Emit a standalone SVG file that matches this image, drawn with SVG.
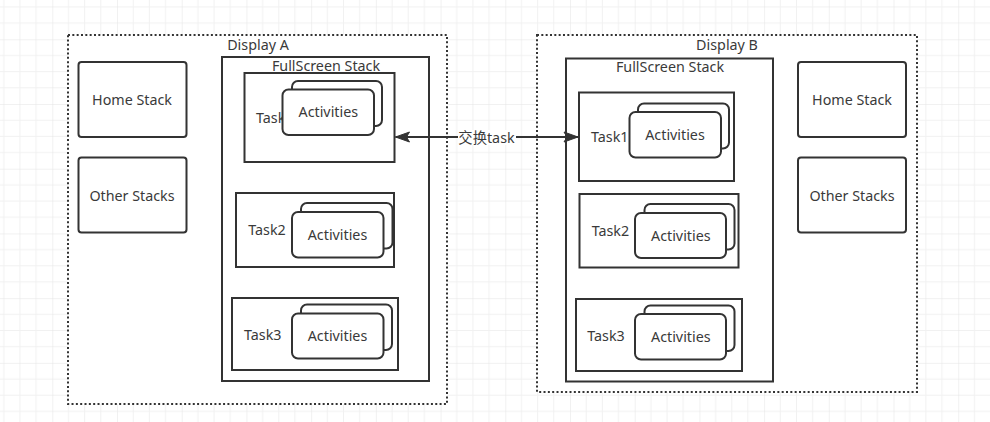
<svg xmlns="http://www.w3.org/2000/svg" width="990" height="422" viewBox="0 0 990 422">
<defs>
<pattern id="grid" patternUnits="userSpaceOnUse" x="52.3" y="39.3" width="64.71" height="64.71">
<path d="M16.18,0V64.71M32.36,0V64.71M48.53,0V64.71M0,16.18H64.71M0,32.36H64.71M0,48.53H64.71" stroke="#f1f1f1" stroke-width="1" fill="none"/>
<path d="M0,0V64.71M0,0H64.71" stroke="#e4e4e4" stroke-width="1" fill="none"/>
</pattern>
<marker id="arr" markerUnits="userSpaceOnUse" markerWidth="16" markerHeight="12" viewBox="0 0 16 12" refX="15" refY="6" orient="auto-start-reverse">
<path d="M1,1 L15,6 L1,11 L4,6 z" fill="#333" stroke="#333" stroke-width="1"/>
</marker>
</defs>
<style>
.disp{fill:#fff;stroke:#333;stroke-width:2;stroke-dasharray:2 2.33}
.box{fill:#fff;stroke:#333;stroke-width:2}
.rbox{fill:#fff;stroke:#333;stroke-width:2}
.card{fill:#fff;stroke:#333;stroke-width:2}
text{font-family:"Noto Sans","Open Sans","Noto Sans CJK SC",sans-serif;font-size:14.3px;fill:#3a3a3a}
.c{text-anchor:middle}
.edge{stroke:#333;stroke-width:2;fill:none}
</style>
<rect x="0" y="0" width="990" height="422" fill="#fff"/>
<rect x="0" y="0" width="990" height="422" fill="url(#grid)"/>

<g id="displayA">
<rect class="disp" x="68" y="35" width="379" height="369"/>
<text class="c" x="258" y="50">Display A</text>
</g>
<g id="displayB">
<rect class="disp" x="537" y="35" width="380" height="357"/>
<text class="c" x="727" y="50">Display B</text>
</g>

<g id="homeStackA">
<rect class="rbox" x="78.5" y="62" width="108" height="75" rx="3"/>
<text class="c" x="132" y="105">Home Stack</text>
</g>
<g id="otherStacksA">
<rect class="rbox" x="78.5" y="157.5" width="108" height="75" rx="3"/>
<text class="c" x="132" y="201">Other Stacks</text>
</g>
<g id="fullscreenA">
<rect class="box" x="222" y="57" width="207" height="324"/>
<text class="c" x="326" y="71">FullScreen Stack</text>
</g>
<g id="taskA1">
<rect class="box" x="244.5" y="73" width="150" height="89"/>
<text x="256" y="123">Task1</text>
<rect class="card" x="292" y="81" width="90" height="45" rx="6"/>
<rect class="card" x="282.5" y="89.5" width="91.5" height="45.5" rx="6"/>
<text class="c" x="328.3" y="117.3">Activities</text>
</g>
<g id="taskA2">
<rect class="box" x="236" y="193" width="158" height="74"/>
<text x="248.3" y="235">Task2</text>
<rect class="card" x="301" y="203" width="91.5" height="45.5" rx="6"/>
<rect class="card" x="292" y="212" width="91.5" height="45.5" rx="6"/>
<text class="c" x="337.5" y="239.5">Activities</text>
</g>
<g id="taskA3">
<rect class="box" x="232" y="298" width="166" height="72"/>
<text x="244" y="340">Task3</text>
<rect class="card" x="301" y="304.5" width="91" height="45.5" rx="6"/>
<rect class="card" x="292" y="313.5" width="91.5" height="45" rx="6"/>
<text class="c" x="337.5" y="341">Activities</text>
</g>

<g id="fullscreenB">
<rect class="box" x="566" y="58.5" width="207" height="323"/>
<text class="c" x="670" y="72">FullScreen Stack</text>
</g>
<g id="homeStackB">
<rect class="rbox" x="798" y="62" width="108" height="75" rx="3"/>
<text class="c" x="852" y="105">Home Stack</text>
</g>
<g id="otherStacksB">
<rect class="rbox" x="798" y="157.5" width="108" height="75" rx="3"/>
<text class="c" x="852" y="201">Other Stacks</text>
</g>
<g id="taskB1">
<rect class="box" x="579" y="92.5" width="155" height="88.5"/>
<text x="591" y="142.3">Task1</text>
<rect class="card" x="638" y="103.5" width="91" height="45" rx="6"/>
<rect class="card" x="629.5" y="112" width="91.5" height="45.5" rx="6"/>
<text class="c" x="675" y="140.3">Activities</text>
</g>
<g id="taskB2">
<rect class="box" x="579.5" y="194" width="159" height="73.5"/>
<text x="591.7" y="236">Task2</text>
<rect class="card" x="644.5" y="204" width="90" height="45.5" rx="6"/>
<rect class="card" x="635" y="213" width="91" height="45" rx="6"/>
<text class="c" x="680.8" y="241">Activities</text>
</g>
<g id="taskB3">
<rect class="box" x="576" y="299" width="166" height="72"/>
<text x="587.3" y="341">Task3</text>
<rect class="card" x="644.5" y="305.5" width="90" height="45.5" rx="6"/>
<rect class="card" x="635" y="314" width="91" height="45.5" rx="6"/>
<text class="c" x="680.8" y="341.7">Activities</text>
</g>

<g id="connectors">
<line class="edge" x1="395.5" y1="137" x2="578" y2="137" marker-start="url(#arr)" marker-end="url(#arr)"/>
<rect x="458" y="130" width="58" height="15" fill="#fff"/>
<text class="c" x="486.5" y="143">交换task</text>
</g>
</svg>
